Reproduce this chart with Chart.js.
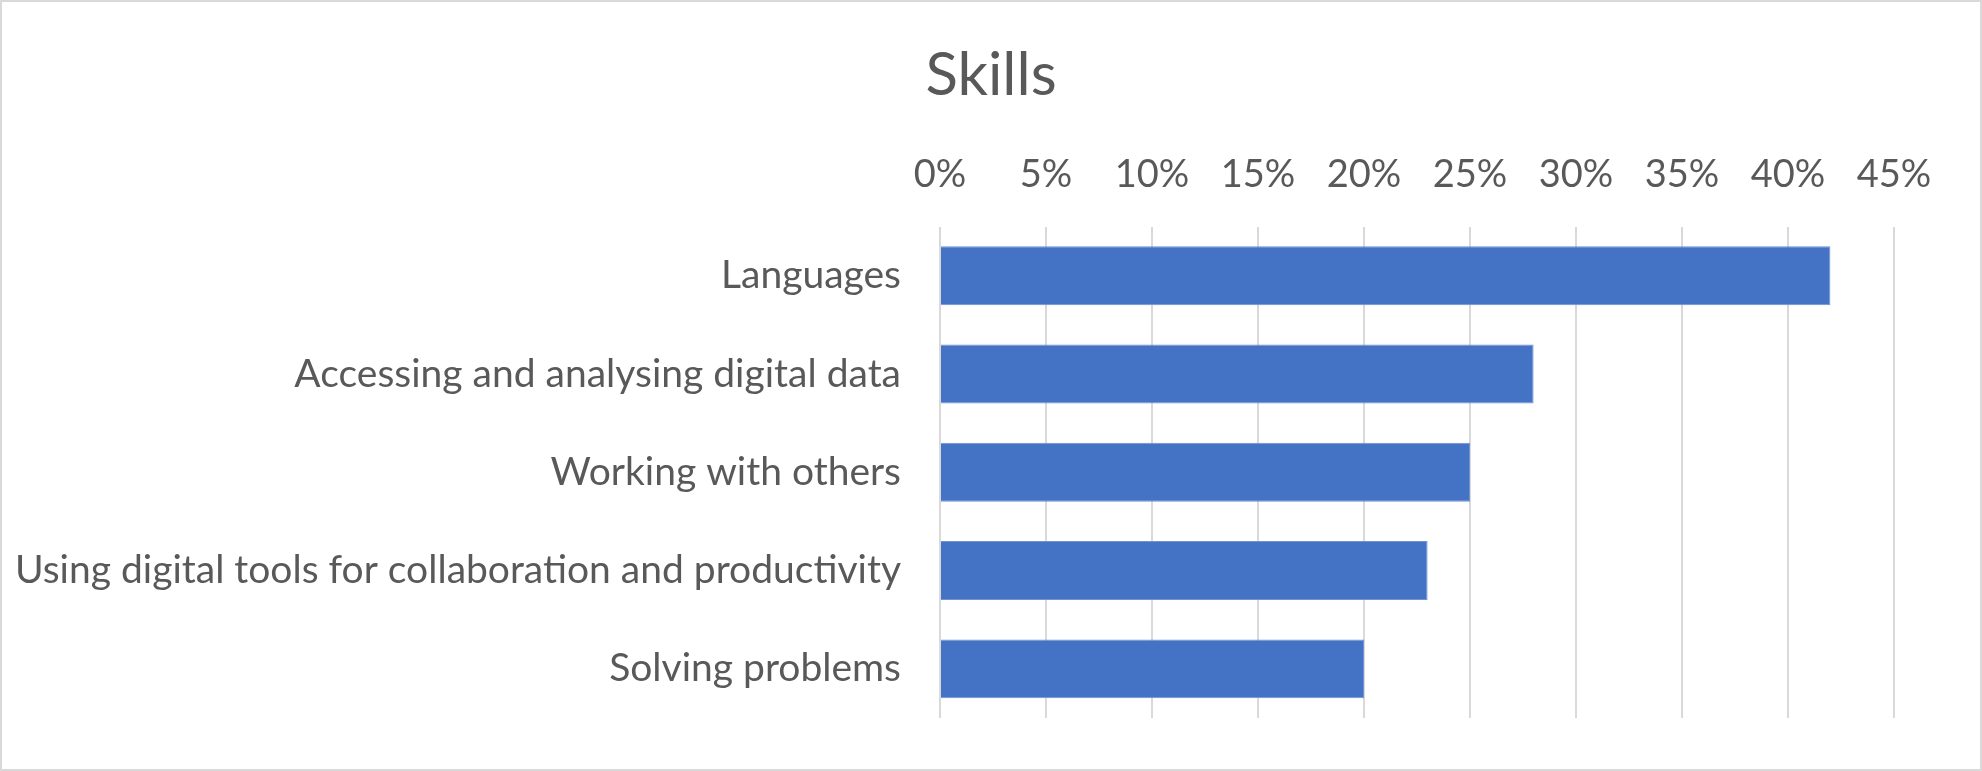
<!DOCTYPE html>
<html>
<head>
<meta charset="utf-8">
<script src="https://cdn.jsdelivr.net/npm/chart.js@4"></script>
<style>
  html, body { margin: 0; padding: 0; background: #fff; }
  #wrap {
    width: 1982px; height: 771px;
    box-sizing: border-box;
    border: 2px solid #d9d9d9;
    background: #fff;
    position: relative;
  }
</style>
</head>
<body>
<div id="wrap"><canvas id="skills__chart"></canvas></div>
<script>
var categories = [
    'Languages',
    'Accessing and analysing digital data',
    'Working with others',
    'Using digital tools for collaboration and productivity',
    'Solving problems'
];
var shares = [0.42, 0.28, 0.25, 0.23, 0.20];
var tickValues = [0, 0.05, 0.10, 0.15, 0.20, 0.25, 0.30, 0.35, 0.40, 0.45];

var textColor = '#595959';
var fontFamily = 'Lato, "Open Sans", sans-serif';

var ctx = document.getElementById('skills__chart');
var skills__chart = new Chart(ctx, {
    type: 'bar',
    data: {
        labels: categories,
        datasets: [{
            label: 'Skills',
            data: shares,
            backgroundColor: '#4472C4',
            borderColor: '#6f93d3',
            borderWidth: 1,
            borderSkipped: 'left',
            barPercentage: 0.6,
            categoryPercentage: 1
        }]
    },
    options: {
        indexAxis: 'y',
        responsive: true,
        maintainAspectRatio: false,
        animation: false,
        layout: {
            padding: { top: 0, right: 6, bottom: 51, left: 6 }
        },
        plugins: {
            legend: { display: false },
            tooltip: { enabled: false },
            title: {
                display: true,
                text: 'Skills',
                color: textColor,
                font: { family: fontFamily, size: 60, weight: 'normal', lineHeight: 1.2 },
                padding: { top: 38, bottom: 11 }
            }
        },
        scales: {
            x: {
                position: 'top',
                min: 0,
                max: 0.45,
                afterBuildTicks: function (scale) {
                    scale.ticks = tickValues.map(function (v) { return { value: v }; });
                },
                ticks: {
                    color: textColor,
                    padding: 29,
                    font: { family: fontFamily, size: 38, lineHeight: 1.2 },
                    callback: function (value) {
                        return Math.round(value * 100) + '%';
                    }
                },
                grid: {
                    color: '#d9d9d9',
                    lineWidth: 2,
                    drawTicks: false
                },
                border: { display: false }
            },
            y: {
                afterFit: function (scale) {
                    scale.width = 940 - 2 - 6;
                    scale.paddingTop = 0;
                    scale.paddingBottom = 0;
                },
                ticks: {
                    color: textColor,
                    padding: 39,
                    font: { family: fontFamily, size: 39 }
                },
                grid: { display: false, drawTicks: false },
                border: { display: false }
            },
            // empty strip on the right so the plot ends where the reference does
            spacer: {
                type: 'category',
                axis: 'y',
                position: 'right',
                afterFit: function (scale) {
                    scale.width = 1980 - 1894 - 6;
                    scale.paddingTop = 0;
                    scale.paddingBottom = 0;
                },
                ticks: { display: false },
                grid: { display: false, drawTicks: false },
                border: { display: false }
            }
        }
    }
});
</script>
</body>
</html>
